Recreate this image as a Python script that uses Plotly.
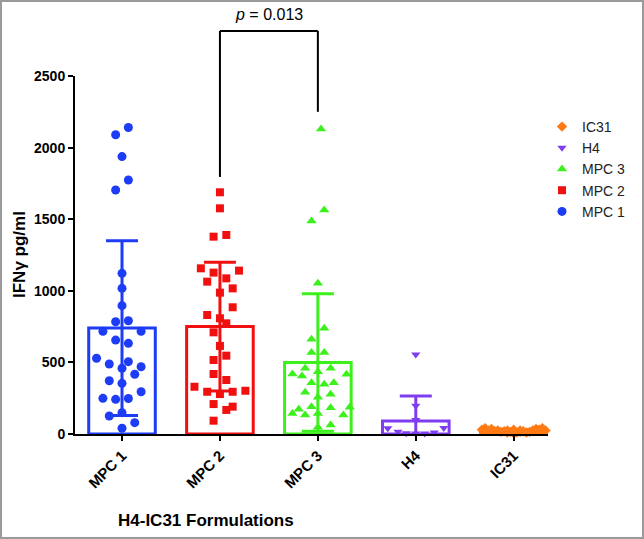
import plotly.graph_objects as go

# ---------------- data ----------------
categories = ["MPC 1", "MPC 2", "MPC 3", "H4", "IC31"]
bar_means = [740, 750, 500, 90, 20]
bar_sd = [610, 450, 480, 175, 12]

mpc1_vals = [2140, 2090, 1937, 1774, 1704, 1122, 1017, 896, 784, 791, 717, 717,
             656, 633, 529, 489, 505, 459, 470, 417, 372, 354, 295, 249, 242,
             248, 126, 149, 79, 40]
mpc1_jit = [1, -1, 0, 1, -1, 0, 0, 0, -1, 1, -3, 3, -1, 1, -4, -2, 1, 0, 3, 2,
            -2, 0, 3, -3, -1, 1, -2, 0, 2, 0]

mpc2_vals = [1688, 1576, 1378, 1390, 1157, 1127, 1141, 1064, 1087, 1017, 987,
             885, 831, 808, 773, 710, 615, 547, 517, 419, 377, 330, 295, 279,
             295, 302, 209, 191, 168, 93]
mpc2_jit = [0, 0, -1, 1, -3, -1, 3, -2, 1, 2, 0, 2, -2, 0, 1, -1, 0, 1, -1, -1,
            1, -4, -2, 0, 2, 4, -1, 2, 1, -1]

mpc3_vals = [2130, 1564, 1487, 1052, 738, 661, 570, 570, 459, 435, 459, 419,
             405, 417, 358, 347, 358, 291, 256, 277, 191, 172, 144, 133, 144,
             184, 186, 133, 47, 63]
mpc3_jit = [0.5, 1, -1, 0, 1, -1, -1, 1, -2, 0, 2, -4, -2.5, 4.5, -1, 1, 2.5,
            -2, 0, 2, -1, -3, -4, -2, 0, 2, 5, 4, 0, 2]

h4_vals = [556, 198, 98, 40, 16, 5, 3, 3, 10, 42]
h4_jit = [0, 0, 0, -4.4, -2.8, -1.5, 0, 1.4, 2.9, 4.4]

ic31_vals = [30, 40, 25, 35, 20, 25, 15, 20, 10, 15, 5, 20, 10, 15, 20, 10, 15,
             25, 35, 30, 40, 25, 25, 25, 30]
ic31_jit = [-5, -4.5, -4, -3.5, -3, -2.5, -2, -1.5, -1, -0.5, 0, 0, 0.5, 1, 1.5,
            2, 2.5, 3, 3.5, 4, 4.5, 5, -1, 1, 0]

p_text = "<i>p</i> = 0.013"
bracket_cats = [1, 2]
bracket_ends = [1795, 2250]   # data level where each leg ends
bracket_top = 2815

# ---------------- styling ----------------
colors = ["#1c3cf5", "#f01010", "#3cf01c", "#7f3cf0", "#ff7a14"]
symbols = ["circle", "square", "triangle-up", "triangle-down", "diamond"]
sizes = [9, 8, 9, 8, 8]
JSTEP = 0.065
XR = [-0.48, 4.35]
YR = [0, 2500]
FONT = "Liberation Sans, Arial, sans-serif"
L, R, T, B = 75, 96, 76, 105
PW, PH = 644 - L - R, 539 - T - B

point_vals = [mpc1_vals, mpc2_vals, mpc3_vals, h4_vals, ic31_vals]
point_jit = [mpc1_jit, mpc2_jit, mpc3_jit, h4_jit, ic31_jit]

fig = go.Figure()

for i, cat in enumerate(categories):
    fig.add_trace(go.Bar(
        x=[i], y=[bar_means[i]], width=0.68, showlegend=False,
        marker=dict(color="rgba(0,0,0,0)", line=dict(color=colors[i], width=3)),
        error_y=dict(type="data", array=[bar_sd[i]], color=colors[i],
                     thickness=3, width=16),
        hoverinfo="skip",
    ))

for i, cat in enumerate(categories):
    fig.add_trace(go.Scatter(
        x=[i + j * JSTEP for j in point_jit[i]], y=point_vals[i],
        mode="markers", name=cat, cliponaxis=False,
        marker=dict(color=colors[i], symbol=symbols[i], size=sizes[i],
                    line=dict(width=0)),
    ))

def py(v):
    return (v - YR[0]) / (YR[1] - YR[0])

def ppx(px):
    return (px - L) / PW

def ppy(px):
    return (539 - B - px) / PH

# significance bracket
x0, x1 = bracket_cats
for xc, ye in zip(bracket_cats, bracket_ends):
    fig.add_shape(type="line", xref="x", yref="paper", x0=xc, x1=xc,
                  y0=py(ye), y1=py(bracket_top),
                  line=dict(color="black", width=2))
fig.add_shape(type="line", xref="x", yref="paper", x0=x0, x1=x1,
              y0=py(bracket_top), y1=py(bracket_top),
              line=dict(color="black", width=2))
fig.add_annotation(x=(x0 + x1) / 2, xref="x", y=ppy(14), yref="paper",
                   text=p_text, showarrow=False, xanchor="center", yanchor="middle",
                   font=dict(size=16, color="black", family=FONT))

# outer frame
fig.add_shape(type="rect", xref="paper", yref="paper",
              x0=ppx(1), x1=ppx(643), y0=ppy(538), y1=ppy(1),
              line=dict(color="#9a9a9a", width=2))

fig.add_annotation(text="<b>H4-IC31 Formulations</b>", xref="paper", yref="paper",
                   x=ppx(206), y=ppy(520), showarrow=False,
                   xanchor="center", yanchor="middle",
                   font=dict(size=17, color="black", family=FONT))
fig.add_annotation(text="<b>IFNγ pg/ml</b>", xref="paper", yref="paper",
                   x=ppx(19), y=0.5, textangle=-90, showarrow=False,
                   xanchor="center", yanchor="middle",
                   font=dict(size=17, color="black", family=FONT))

fig.update_layout(
    width=644, height=539,
    margin=dict(l=L, r=R, t=T, b=B, autoexpand=False),
    plot_bgcolor="white", paper_bgcolor="white",
    barmode="overlay",
    font=dict(family=FONT, color="black"),
    legend=dict(x=ppx(542), y=ppy(111), xanchor="left", yanchor="top",
                traceorder="reversed", font=dict(size=14, color="#222"),
                bgcolor="rgba(0,0,0,0)", itemsizing="trace"),
    xaxis=dict(range=XR, tickmode="array", tickvals=list(range(len(categories))),
               ticktext=["<b>%s</b>" % c for c in categories], tickangle=-45,
               showline=True, linecolor="black", linewidth=2, ticks="outside",
               ticklen=5, tickwidth=2, tickcolor="black", showgrid=False,
               zeroline=False, tickfont=dict(size=15, family=FONT)),
    yaxis=dict(range=YR, tickvals=[0, 500, 1000, 1500, 2000, 2500],
               ticktext=["<b>%d</b>" % v for v in [0, 500, 1000, 1500, 2000, 2500]],
               showline=True, linecolor="black", linewidth=2, ticks="outside",
               ticklen=5, tickwidth=2, tickcolor="black", showgrid=False,
               zeroline=False, tickfont=dict(size=14, family=FONT)),
)

fig.write_html("out.html", config={"displayModeBar": False},
               post_script="document.body.style.margin='0px';")
